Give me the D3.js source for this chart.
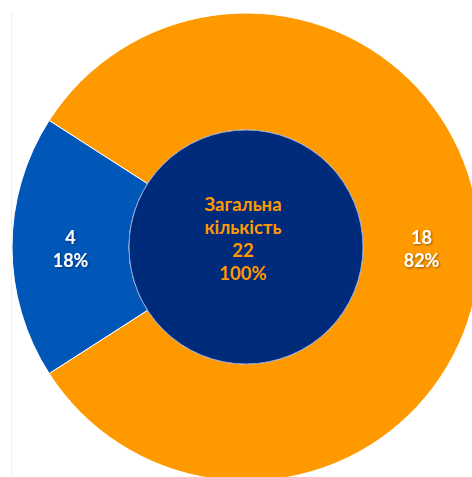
<!DOCTYPE html>
<html>
<head>
<meta charset="utf-8">
<script src="https://cdn.jsdelivr.net/npm/d3@7"></script>
<style>
  html, body { margin: 0; padding: 0; background: #fff; }
  svg { display: block; }
  text { font-family: "Lato", "Open Sans", sans-serif; font-weight: 700; }
</style>
</head>
<body>
<div id="root"></div>
<script>
const categories = ['Група 1', 'Група 2'];
const values = [18, 4];
const colors = ['#ff9900', '#0057b8'];
const centerLines = ['Загальна', 'кількість'];

const width = 472;
const height = 477;
const cx = 246;
const cy = 247;
const outerR = 234;
const innerR = 117;

const total = d3.sum(values);
const fmtPct = (v) => Math.round(v / total * 100) + '%';

const svg = d3.select('#root')
  .append('svg')
  .attr('width', width)
  .attr('height', height);

const defs = svg.append('defs');
const shadow = defs.append('filter')
  .attr('id', 'shadow')
  .attr('x', '-20%').attr('y', '-20%')
  .attr('width', '140%').attr('height', '140%');
shadow.append('feDropShadow')
  .attr('dx', 1).attr('dy', 1)
  .attr('stdDeviation', 0.8)
  .attr('flood-color', '#000')
  .attr('flood-opacity', 0.45);

// faint border of the chart area
svg.append('line')
  .attr('x1', 11.5).attr('x2', 11.5)
  .attr('y1', 13).attr('y2', height)
  .attr('stroke', '#f0f0f0')
  .attr('stroke-width', 1);

// keep the small slice centred on the left side
const smallShare = values[1] / total;
const start = -Math.PI / 2 + Math.PI * smallShare;

const pie = d3.pie()
  .sort(null)
  .startAngle(start)
  .endAngle(start + 2 * Math.PI);

const arc = d3.arc()
  .innerRadius(innerR)
  .outerRadius(outerR);

const g = svg.append('g')
  .attr('transform', 'translate(' + cx + ',' + cy + ')');

const slices = pie(values);

g.selectAll('path.slice')
  .data(slices)
  .enter()
  .append('path')
  .attr('class', 'slice')
  .attr('fill', (d, i) => colors[i])
  .attr('stroke', '#fff')
  .attr('stroke-width', 1)
  .attr('d', arc);

// centre circle with the total
g.append('circle')
  .attr('r', innerR)
  .attr('fill', '#002a7a')
  .attr('stroke', '#8aa3d0')
  .attr('stroke-width', 1);

const labels = g.selectAll('g.label')
  .data(slices)
  .enter()
  .append('g')
  .attr('class', 'label')
  .attr('transform', (d) => 'translate(' + arc.centroid(d) + ')');

labels.append('text')
  .attr('text-anchor', 'middle')
  .attr('y', -3)
  .attr('fill', '#fff')
  .attr('font-size', 18)
  .attr('filter', 'url(#shadow)')
  .text((d) => d.data);

labels.append('text')
  .attr('text-anchor', 'middle')
  .attr('y', 20)
  .attr('fill', '#fff')
  .attr('font-size', 18)
  .attr('filter', 'url(#shadow)')
  .text((d) => fmtPct(d.data));

const centerText = centerLines.concat([String(total), fmtPct(total)]);
g.selectAll('text.center')
  .data(centerText)
  .enter()
  .append('text')
  .attr('class', 'center')
  .attr('text-anchor', 'middle')
  .attr('x', -3)
  .attr('y', (d, i) => -36 + i * 23)
  .attr('fill', '#ff9900')
  .attr('font-size', 18.5)
  .text((d) => d);
</script>
</body>
</html>
